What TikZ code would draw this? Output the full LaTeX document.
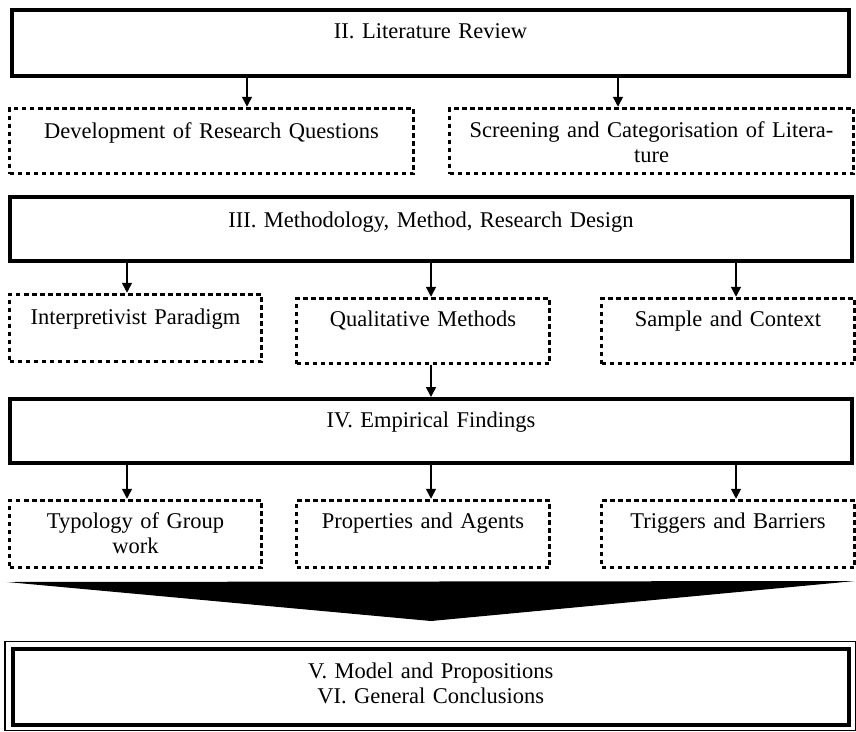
\documentclass[tikz,border=0pt]{standalone}
\usepackage{fontspec}
\setmainfont{Liberation Serif}
\usetikzlibrary{arrows.meta}

\begin{document}
\begin{tikzpicture}[x=1pt,y=-1pt,font=\fontsize{22.5}{25}\selectfont,
mainbox/.style={draw,line width=4pt,inner xsep=0pt,inner ysep=0pt,align=center},
subbox/.style={draw,line width=3.5pt,dash pattern=on 4.5pt off 3.5pt,inner xsep=0pt,inner ysep=0pt,align=center},
arr/.style={-{Triangle[length=10pt,width=10pt]},line width=1.5pt}]
\useasboundingbox(0,0)rectangle(856,731);

% literature review
\node[mainbox,text width=837pt,text height=28pt,text depth=38pt](lit)at(430.5,43){II. Literature Review};
\node[subbox,text width=404pt,text height=29.5pt,text depth=35.5pt](dev)at(211.5,141){Development of Research Questions};
\node[subbox,text width=404pt,text height=28.5pt,text depth=36.5pt](scr)at(651.5,141){Screening and Categorisation of Litera-\\ture};
\draw[arr]([xshift=35.5pt]dev.north|-lit.south)--([xshift=35.5pt]dev.north);
\draw[arr]([xshift=-33.5pt]scr.north|-lit.south)--([xshift=-33.5pt]scr.north);

% methodology
\node[mainbox,text width=842pt,text height=30pt,text depth=34pt](meth)at(431,229){III. Methodology, Method, Research Design};
\node[subbox,text width=252pt,text height=29.5pt,text depth=37.5pt](interp)at(135.5,328){Interpretivist Paradigm};
\node[subbox,text width=253pt,text height=27.5pt,text depth=37.5pt](qual)at(423,331){Qualitative Methods};
\node[subbox,text width=253pt,text height=27.5pt,text depth=37.5pt](samp)at(728,331){Sample and Context};
\draw[arr]([xshift=-8.5pt]interp.north|-meth.south)--([xshift=-8.5pt]interp.north);
\draw[arr]([xshift=8pt]qual.north|-meth.south)--([xshift=8pt]qual.north);
\draw[arr]([xshift=8pt]samp.north|-meth.south)--([xshift=8pt]samp.north);

% findings
\node[mainbox,text width=842pt,text height=28pt,text depth=36pt](emp)at(431,431){IV. Empirical Findings};
\draw[arr]([xshift=8pt]qual.south)--([xshift=8pt]qual.south|-emp.north);
\node[subbox,text width=252pt,text height=27.5pt,text depth=39.5pt](typ)at(135.5,534){Typology of Group\\work};
\node[subbox,text width=253pt,text height=27.5pt,text depth=39.5pt](prop)at(423,534){Properties and Agents};
\node[subbox,text width=253pt,text height=27.5pt,text depth=39.5pt](trig)at(728,534){Triggers and Barriers};
\draw[arr]([xshift=-8.5pt]typ.north|-emp.south)--([xshift=-8.5pt]typ.north);
\draw[arr]([xshift=8pt]prop.north|-emp.south)--([xshift=8pt]prop.north);
\draw[arr]([xshift=8pt]trig.north|-emp.south)--([xshift=8pt]trig.north);

% funnel and conclusions
\fill(7,582)--(855,581)--(431,621)--cycle;
\node[mainbox,text width=836.5pt,text height=29pt,text depth=46.5pt](concl)at(430.75,686.75){V. Model and Propositions\\VI. General Conclusions};
\draw[line width=1.5pt]([shift={(-5.5,-5.5)}]concl.north west)rectangle([shift={(4.5,4)}]concl.south east);
\end{tikzpicture}
\end{document}
